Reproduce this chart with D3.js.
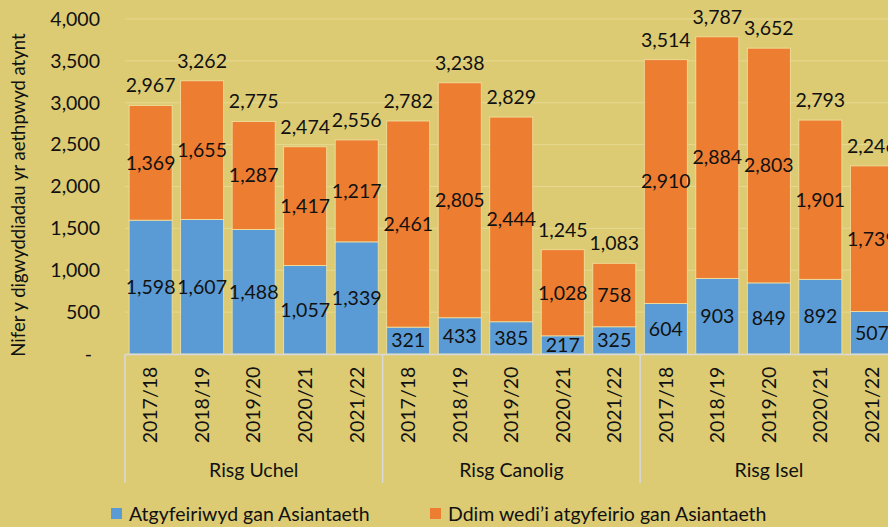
<!DOCTYPE html>
<html>
<head>
<meta charset="utf-8">
<script src="https://cdn.jsdelivr.net/npm/d3@7"></script>
<style>
  body { margin: 0; background: #dccb73; }
  svg text { font-family: Lato, "Open Sans", sans-serif; fill: #111; }
</style>
</head>
<body>
<div id="chart"></div>
<script>
// data
const groups = ["Risg Uchel", "Risg Canolig", "Risg Isel"];
const years = ["2017/18", "2018/19", "2019/20", "2020/21", "2021/22"];
const referred = [1598, 1607, 1488, 1057, 1339, 321, 433, 385, 217, 325, 604, 903, 849, 892, 507];
const notReferred = [1369, 1655, 1287, 1417, 1217, 2461, 2805, 2444, 1028, 758, 2910, 2884, 2803, 1901, 1739];
const totals = [2967, 3262, 2775, 2474, 2556, 2782, 3238, 2829, 1245, 1083, 3514, 3787, 3652, 2793, 2246];
const seriesNames = ["Atgyfeiriwyd gan Asiantaeth", "Ddim wedi\u2019i atgyfeirio gan Asiantaeth"];
const yTicks = [0, 500, 1000, 1500, 2000, 2500, 3000, 3500, 4000];

const colors = ["#5b9bd5", "#ed7d31"];
const fmt = d3.format(",");
const fs = "19.5px";

let margin = { top: 19, left: 125 },
  width = 15 * 51.5,
  height = 335;

let svg = d3.select("#chart").append("svg")
  .attr("width", 888)
  .attr("height", 527);

let g = svg.append("g")
  .attr("transform", "translate(" + margin.left + "," + margin.top + ")");

let rows = [];
for (let i = 0; i < referred.length; i++) {
  rows.push({
    key: groups[Math.floor(i / 5)] + "|" + years[i % 5],
    group: groups[Math.floor(i / 5)],
    year: years[i % 5],
    a: referred[i],
    b: notReferred[i],
    total: totals[i]
  });
}

let x = d3.scaleBand()
  .domain(rows.map(d => d.key))
  .range([0, width])
  .paddingInner(0.165)
  .paddingOuter(0.08);

let y = d3.scaleLinear().domain([0, 4000]).range([height, 0]);

// grid
g.selectAll(".grid")
  .data(yTicks.slice(1))
  .enter().append("line")
  .attr("x1", 0).attr("x2", width)
  .attr("y1", d => y(d)).attr("y2", d => y(d))
  .attr("stroke", "#e6d890")
  .attr("stroke-width", 1);

// y axis labels
g.selectAll(".ytick")
  .data(yTicks)
  .enter().append("text")
  .attr("x", d => d === 0 ? -33 : -25)
  .attr("y", d => y(d))
  .attr("dy", "0.35em")
  .attr("text-anchor", "end")
  .style("font-size", fs)
  .text(d => d === 0 ? "-" : fmt(d));

let stack = d3.stack().keys(["a", "b"])(rows);

g.selectAll(".series")
  .data(stack)
  .enter().append("g")
  .attr("fill", (d, i) => colors[i])
  .selectAll("rect")
  .data(d => d)
  .enter().append("rect")
  .attr("x", d => x(d.data.key))
  .attr("width", x.bandwidth())
  .attr("y", d => y(d[1]))
  .attr("height", d => y(d[0]) - y(d[1]))
  .attr("stroke", "#f2e3a4")
  .attr("stroke-width", 0.8);

// segment labels
stack.forEach(function(s) {
  g.selectAll(".lab-" + s.key)
    .data(s)
    .enter().append("text")
    .attr("x", d => x(d.data.key) + x.bandwidth() / 2)
    .attr("y", d => y((d[0] + d[1]) / 2))
    .attr("dy", "0.35em")
    .attr("text-anchor", "middle")
    .style("font-size", fs)
    .text(d => fmt(d.data[s.key]));
});

// totals
g.selectAll(".total")
  .data(rows)
  .enter().append("text")
  .attr("x", d => x(d.key) + x.bandwidth() / 2)
  .attr("y", d => y(d.total) - 20)
  .attr("dy", "0.35em")
  .attr("text-anchor", "middle")
  .style("font-size", fs)
  .text(d => fmt(d.total));

// category axis
g.append("line")
  .attr("x1", 0).attr("x2", width)
  .attr("y1", height + 0.5).attr("y2", height + 0.5)
  .attr("stroke", "#d9d9d9").attr("stroke-width", 1.5);

let step = x.step();
for (let k = 0; k <= groups.length; k++) {
  g.append("line")
    .attr("x1", k * 5 * step).attr("x2", k * 5 * step)
    .attr("y1", height).attr("y2", height + 129)
    .attr("stroke", "#d9d9d9").attr("stroke-width", 1.5);
}

g.selectAll(".year")
  .data(rows)
  .enter().append("text")
  .attr("transform", d => "translate(" + (x(d.key) + x.bandwidth() / 2) + "," + (height + 51) + ") rotate(-90)")
  .attr("dy", "0.35em")
  .attr("text-anchor", "middle")
  .style("font-size", fs)
  .text(d => d.year);

g.selectAll(".grouplab")
  .data(groups)
  .enter().append("text")
  .attr("x", (d, i) => (i * 5 + 2.5) * step)
  .attr("y", height + 116)
  .attr("dy", "0.35em")
  .attr("text-anchor", "middle")
  .style("font-size", fs)
  .text(d => d);

// y axis title
svg.append("text")
  .attr("transform", "translate(19,195) rotate(-90)")
  .attr("dy", "0.35em")
  .attr("text-anchor", "middle")
  .style("font-size", "18.5px")
  .text("Nifer y digwyddiadau yr aethpwyd atynt");

// legend
let legendX = [111, 430];
let legend = svg.selectAll(".legend")
  .data(seriesNames)
  .enter().append("g")
  .attr("transform", (d, i) => "translate(" + legendX[i] + ",508)");

legend.append("rect")
  .attr("width", 11).attr("height", 11)
  .attr("fill", (d, i) => colors[i]);

legend.append("text")
  .attr("x", 18)
  .attr("y", 6)
  .attr("dy", "0.35em")
  .style("font-size", fs)
  .text(d => d);
</script>
</body>
</html>
